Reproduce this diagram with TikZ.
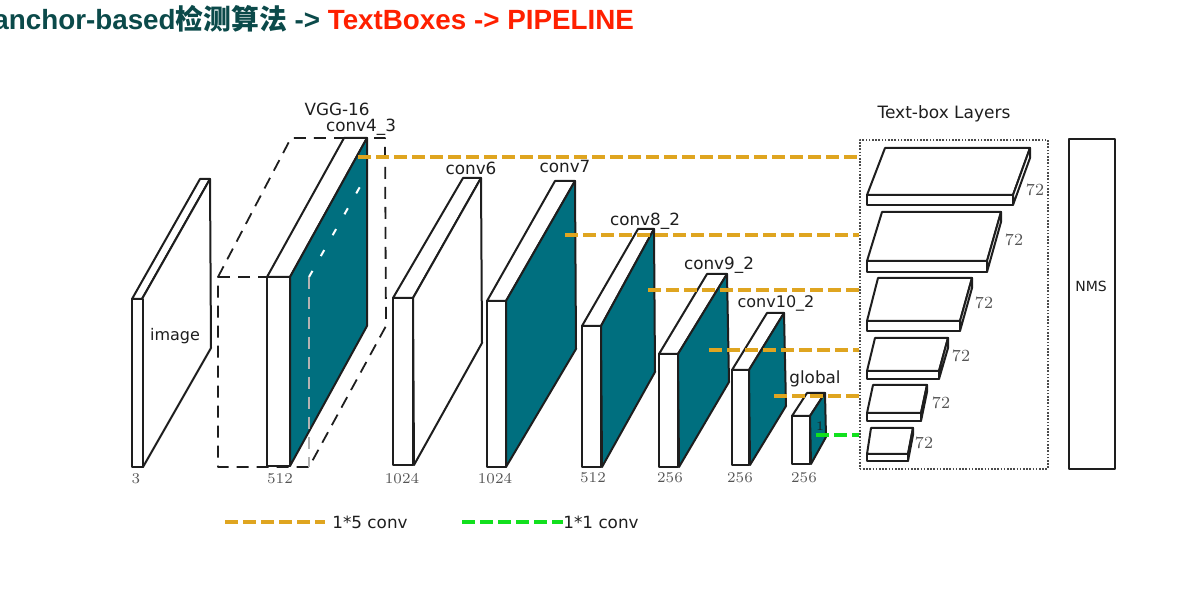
\documentclass[tikz,border=0pt]{standalone}
\usepackage{fontspec}
\usepackage{xcolor}
\setmainfont{DejaVu Sans}
\newfontfamily\titlefont{Liberation Sans}
\newfontfamily\cjk{Noto Sans CJK SC}
\newfontfamily\numfont{Latin Modern Roman}
\definecolor{tealblock}{HTML}{006F7F}
\definecolor{darkline}{HTML}{1E1E1E}
\definecolor{goldline}{HTML}{DFA520}
\definecolor{greenline}{HTML}{12E01E}
\definecolor{titlegreen}{HTML}{0B4A4A}
\definecolor{titlered}{HTML}{FF2000}
\definecolor{numgray}{HTML}{555555}

\begin{document}
\begin{tikzpicture}[x=0.5pt,y=-0.5pt,line join=round,
  block/.style={draw=darkline,line width=1pt,fill=white},
  tealface/.style={draw=darkline,line width=1pt,fill=tealblock},
  backdash/.style={draw=darkline,line width=0.9pt,dash pattern=on 6pt off 4pt},
  goldconv/.style={draw=goldline,line width=1.7pt,dash pattern=on 6.5pt off 2.5pt},
  greenconv/.style={draw=greenline,line width=1.7pt,dash pattern=on 6.5pt off 2.5pt},
  lbl/.style={font=\fontsize{8.4}{10}\selectfont,text=darkline,inner sep=0pt},
  num/.style={font=\numfont\fontsize{7.5}{9}\selectfont,text=numgray,inner sep=0pt},
  numbig/.style={font=\numfont\fontsize{8.5}{10}\selectfont,text=numgray,inner sep=0pt}]
  \useasboundingbox (0,0) rectangle (1200,613);
  % title
  \node[anchor=base west,inner sep=0pt,font=\titlefont\bfseries\fontsize{13.9}{16}\selectfont,text=titlegreen] (title) at (-7,30)
    {anchor-based{\cjk 检测算法} -> \textcolor{titlered}{TextBoxes -> PIPELINE}};
  % image
  \draw[block] (132,299)--(200,179)--(210,179)--(142,299)--cycle;
  \draw[block] (142,299)--(210,179)--(211,348)--(143,467)--cycle;
  \draw[block] (132,299) rectangle (143,467);
  \node[lbl,font=\fontsize{8}{10}\selectfont] (image) at (175,336) {image};
  % VGG-16 dashed box, back part
  \coordinate (VA) at (218,277);
  \coordinate (VB) at (291,138);
  \coordinate (VC) at (385,138);
  \coordinate (VD) at (386,326);
  \coordinate (VE) at (309,467);
  \coordinate (VF) at (218,467);
  \coordinate (VG) at (309,277);
  \draw[backdash] (VA)--(VB)--(VC)--(VD)--(VE)--(VF)--cycle;
  \draw[backdash] (VA)--(267,277);
  % conv4_3
  \draw[block] (267,277)--(344,138)--(367,138)--(290,277)--cycle;
  \draw[tealface] (290,277)--(367,138)--(367,326)--(290,466)--cycle;
  \draw[block] (267,277) rectangle (290,466);
  \draw[draw=white,line width=1pt,dash pattern=on 3.5pt off 8.5pt] (VG)--(361,185);
  \draw[draw=gray!60!white,line width=0.9pt,dash pattern=on 6pt off 4pt] (VG)--(VE);
  % conv6
  \draw[block] (393,298)--(463,178)--(481,178)--(413,298)--cycle;
  \draw[block] (413,298)--(481,178)--(482,343)--(414,465)--cycle;
  \draw[block] (393,298) rectangle (413,465);
  % conv7
  \draw[block] (487,301)--(555,181)--(575,181)--(506,301)--cycle;
  \draw[tealface] (506,301)--(575,181)--(576,349)--(506,467)--cycle;
  \draw[block] (487,301) rectangle (506,467);
  % conv8_2
  \draw[block] (582,326)--(638,229)--(654,229)--(601,326)--cycle;
  \draw[tealface] (601,326)--(654,229)--(655,372)--(602,467)--cycle;
  \draw[block] (582,326) rectangle (601,467);
  % conv9_2
  \draw[block] (659,354)--(707,274)--(727,274)--(678,354)--cycle;
  \draw[tealface] (678,354)--(727,274)--(729,382)--(679,467)--cycle;
  \draw[block] (659,354) rectangle (678,467);
  % conv10_2
  \draw[block] (732,370)--(767,313)--(784,313)--(749,370)--cycle;
  \draw[tealface] (749,370)--(784,313)--(786,406)--(750,465)--cycle;
  \draw[block] (732,370) rectangle (749,465);
  % global
  \draw[block] (792,416)--(807,393)--(825,393)--(810,416)--cycle;
  \draw[tealface] (810,416)--(825,393)--(826,437)--(811,464)--cycle;
  \draw[block] (792,416) rectangle (810,464);
  \node[num,text=darkline,font=\numfont\fontsize{6.5}{8}\selectfont] (one) at (820,426) {1};
  % labels above the blocks
  \node[lbl] (vgg) at (337,109) {VGG-16};
  \node[lbl] (conv43) at (361,127) {conv4\_3};
  \node[lbl] (conv6) at (471,168) {conv6};
  \node[lbl] (conv7) at (565,167) {conv7};
  \node[lbl] (conv82) at (645,221) {conv8\_2};
  \node[lbl] (conv92) at (719,265) {conv9\_2};
  \node[lbl,font=\fontsize{8}{10}\selectfont] (conv102) at (776,303) {conv10\_2};
  \node[lbl] (global) at (815,379) {global};
  \node[lbl,font=\fontsize{8.5}{10}\selectfont] (tblabel) at (944,114) {Text-box Layers};
  % sizes under the blocks
  \node[num] (n3) at (136,479) {3};
  \node[num] (n512) at (280,479) {512};
  \node[num] (n1024a) at (402,479) {1024};
  \node[num] (n1024b) at (495,479) {1024};
  \node[num] (n512b) at (593,478) {512};
  \node[num] (n256a) at (670,478) {256};
  \node[num] (n256b) at (740,478) {256};
  \node[num] (n256c) at (804,478) {256};
  % text-box layers
  \node[draw=darkline!80,line width=0.8pt,dash pattern=on 0.8pt off 0.8pt,inner sep=0pt,minimum width=94pt,minimum height=164.5pt,anchor=north west] (tbox) at (859,139) {};
  \draw[block] (867,195)--(885,148)--(1030,148)--(1013,195)--cycle;
  \draw[block] (1013,195)--(1030,148)--(1030,158)--(1013,205)--cycle;
  \draw[block] (867,195) rectangle (1013,205);
  \node[numbig] (t1) at (1035,190) {72};
  \draw[block] (867,261)--(882,212)--(1001,212)--(987,261)--cycle;
  \draw[block] (987,261)--(1001,212)--(1001,222)--(987,272)--cycle;
  \draw[block] (867,261) rectangle (987,272);
  \node[numbig] (t2) at (1014,240) {72};
  \draw[block] (867,321)--(878,278)--(972,278)--(960,321)--cycle;
  \draw[block] (960,321)--(972,278)--(972,288)--(960,331)--cycle;
  \draw[block] (867,321) rectangle (960,331);
  \node[numbig] (t3) at (984,303) {72};
  \draw[block] (867,371)--(875,338)--(948,338)--(939,371)--cycle;
  \draw[block] (939,371)--(948,338)--(948,348)--(939,379)--cycle;
  \draw[block] (867,371) rectangle (939,379);
  \node[numbig] (t4) at (961,356) {72};
  \draw[block] (867,413)--(873,385)--(927,385)--(921,413)--cycle;
  \draw[block] (921,413)--(927,385)--(927,392)--(921,421)--cycle;
  \draw[block] (867,413) rectangle (921,421);
  \node[numbig] (t5) at (941,403) {72};
  \draw[block] (867,454)--(871,428)--(913,428)--(908,454)--cycle;
  \draw[block] (908,454)--(913,428)--(913,435)--(908,461)--cycle;
  \draw[block] (867,454) rectangle (908,461);
  \node[numbig] (t6) at (924,443) {72};
  % NMS
  \node[draw=darkline,line width=1pt,inner sep=0pt,minimum width=23pt,minimum height=165pt,anchor=north west] (nmsbox) at (1068,138) {};
  \node[lbl,font=\fontsize{7}{9}\selectfont] (nms) at (1091,286) {NMS};
  % connectors
  \coordinate (C1) at (358,157);
  \coordinate (C2) at (565,235);
  \coordinate (C3) at (648,290);
  \coordinate (C4) at (709,350);
  \coordinate (C5) at (774,396);
  \coordinate (C6) at (816,435);
  \draw[goldconv] (C1)--(C1-|tbox.west);
  \draw[goldconv] (C2)--(C2-|tbox.west);
  \draw[goldconv] (C3)--(C3-|tbox.west);
  \draw[goldconv] (C4)--(C4-|tbox.west);
  \draw[goldconv] (C5)--(C5-|tbox.west);
  \draw[greenconv] (C6)--(C6-|tbox.west);
  % legend
  \node[lbl,anchor=west] (leg5) at (332,522) {1*5 conv};
  \node[lbl,anchor=west] (leg1) at (563,522) {1*1 conv};
  \coordinate (L5) at (225,522);
  \coordinate (L1) at (462,522);
  \draw[goldconv] (L5)--(325,522);
  \draw[greenconv] (L1)--(leg1.west);
\end{tikzpicture}
\end{document}
